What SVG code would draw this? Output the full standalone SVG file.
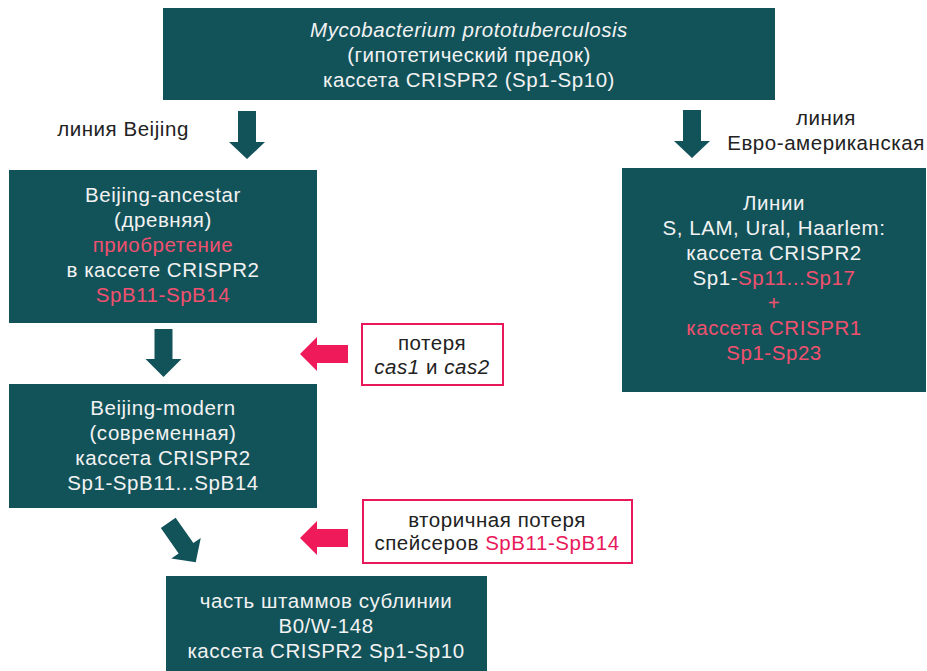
<svg xmlns="http://www.w3.org/2000/svg" width="927" height="671" viewBox="0 0 927 671">
<style>
.box{fill:#12535a}
.t{font-family:"Liberation Sans",Arial,sans-serif;font-size:20.5px;letter-spacing:0.55px;text-anchor:middle}
.w{fill:#f2f2f2}
.d{fill:#222}
.pl{fill:#f0506e}
.pd{fill:#e8185a}
.it{font-style:italic}
.loss{fill:#fff;stroke:#e8185a;stroke-width:2}
.ga{fill:#12535a}
.pa{fill:#ee1a59}
</style>
<rect width="927" height="671" fill="#fff"/>
<g id="ancestor">
<rect class="box" x="163" y="8" width="612" height="92"/>
<text class="t w" x="469" y="37"><tspan class="it">Mycobacterium prototuberculosis</tspan></text>
<text class="t w" x="469" y="62">(гипотетический предок)</text>
<text class="t w" x="469" y="87">кассета CRISPR2 (Sp1-Sp10)</text>
</g>
<g id="label-beijing">
<text class="t d" x="123" y="136">линия Beijing</text>
</g>
<g id="label-euro">
<text class="t d" x="826" y="125">линия</text>
<text class="t d" x="826" y="150">Евро-американская</text>
</g>
<g id="beijing-ancestar">
<rect class="box" x="9" y="170" width="308" height="153"/>
<text class="t w" x="163" y="202">Beijing-ancestar</text>
<text class="t w" x="163" y="227">(древняя)</text>
<text class="t pl" x="163" y="252">приобретение</text>
<text class="t w" x="163" y="277">в кассете CRISPR2</text>
<text class="t pl" x="163" y="302">SpB11-SpB14</text>
</g>
<g id="euro-lines">
<rect class="box" x="622" y="168" width="304" height="224"/>
<text class="t w" x="774" y="210">Линии</text>
<text class="t w" x="774" y="235">S, LAM, Ural, Haarlem:</text>
<text class="t w" x="774" y="260">кассета CRISPR2</text>
<text class="t w" x="774" y="285">Sp1-<tspan class="pl">Sp11...Sp17</tspan></text>
<text class="t pl" x="774" y="310">+</text>
<text class="t pl" x="774" y="335">кассета CRISPR1</text>
<text class="t pl" x="774" y="360">Sp1-Sp23</text>
</g>
<g id="loss-cas">
<rect class="loss" x="362" y="324" width="141" height="61"/>
<text class="t d" x="432" y="350">потеря</text>
<text class="t d" x="432" y="374"><tspan class="it">cas1</tspan> и <tspan class="it">cas2</tspan></text>
</g>
<g id="beijing-modern">
<rect class="box" x="9" y="384" width="308" height="124"/>
<text class="t w" x="163" y="415">Beijing-modern</text>
<text class="t w" x="163" y="440">(современная)</text>
<text class="t w" x="163" y="465">кассета CRISPR2</text>
<text class="t w" x="163" y="490">Sp1-SpB11...SpB14</text>
</g>
<g id="loss-spacers">
<rect class="loss" x="363" y="500" width="269" height="63"/>
<text class="t d" x="497" y="527">вторичная потеря</text>
<text class="t d" x="497" y="550">спейсеров <tspan class="pd">SpB11-SpB14</tspan></text>
</g>
<g id="b0-w148">
<rect class="box" x="166" y="576" width="321" height="95"/>
<text class="t w" x="326" y="608">часть штаммов сублинии</text>
<text class="t w" x="326" y="633">B0/W-148</text>
<text class="t w" x="326" y="658">кассета CRISPR2 Sp1-Sp10</text>
</g>
<g id="connectors">
<path class="ga" d="M238,111 H256 V142 H265 L247,159 L229,142 H238 Z"/>
<path class="ga" d="M683,110 H701 V141 H710 L692,158 L674,141 H683 Z"/>
<path class="ga" d="M154.5,329 H172.5 V359 H181.5 L163.5,377 L145.5,359 H154.5 Z"/>
<path class="ga" transform="translate(182,542.5) rotate(-35)" d="M-9,-24 H9 V7 H18 L0,24 L-18,7 H-9 Z"/>
<path class="pa" d="M348,345 V363 H317 V371 L300,354 L317,337 V345 Z"/>
<path class="pa" d="M348,529 V547 H317 V555 L300,538 L317,521 V529 Z"/>
</g>
</svg>
